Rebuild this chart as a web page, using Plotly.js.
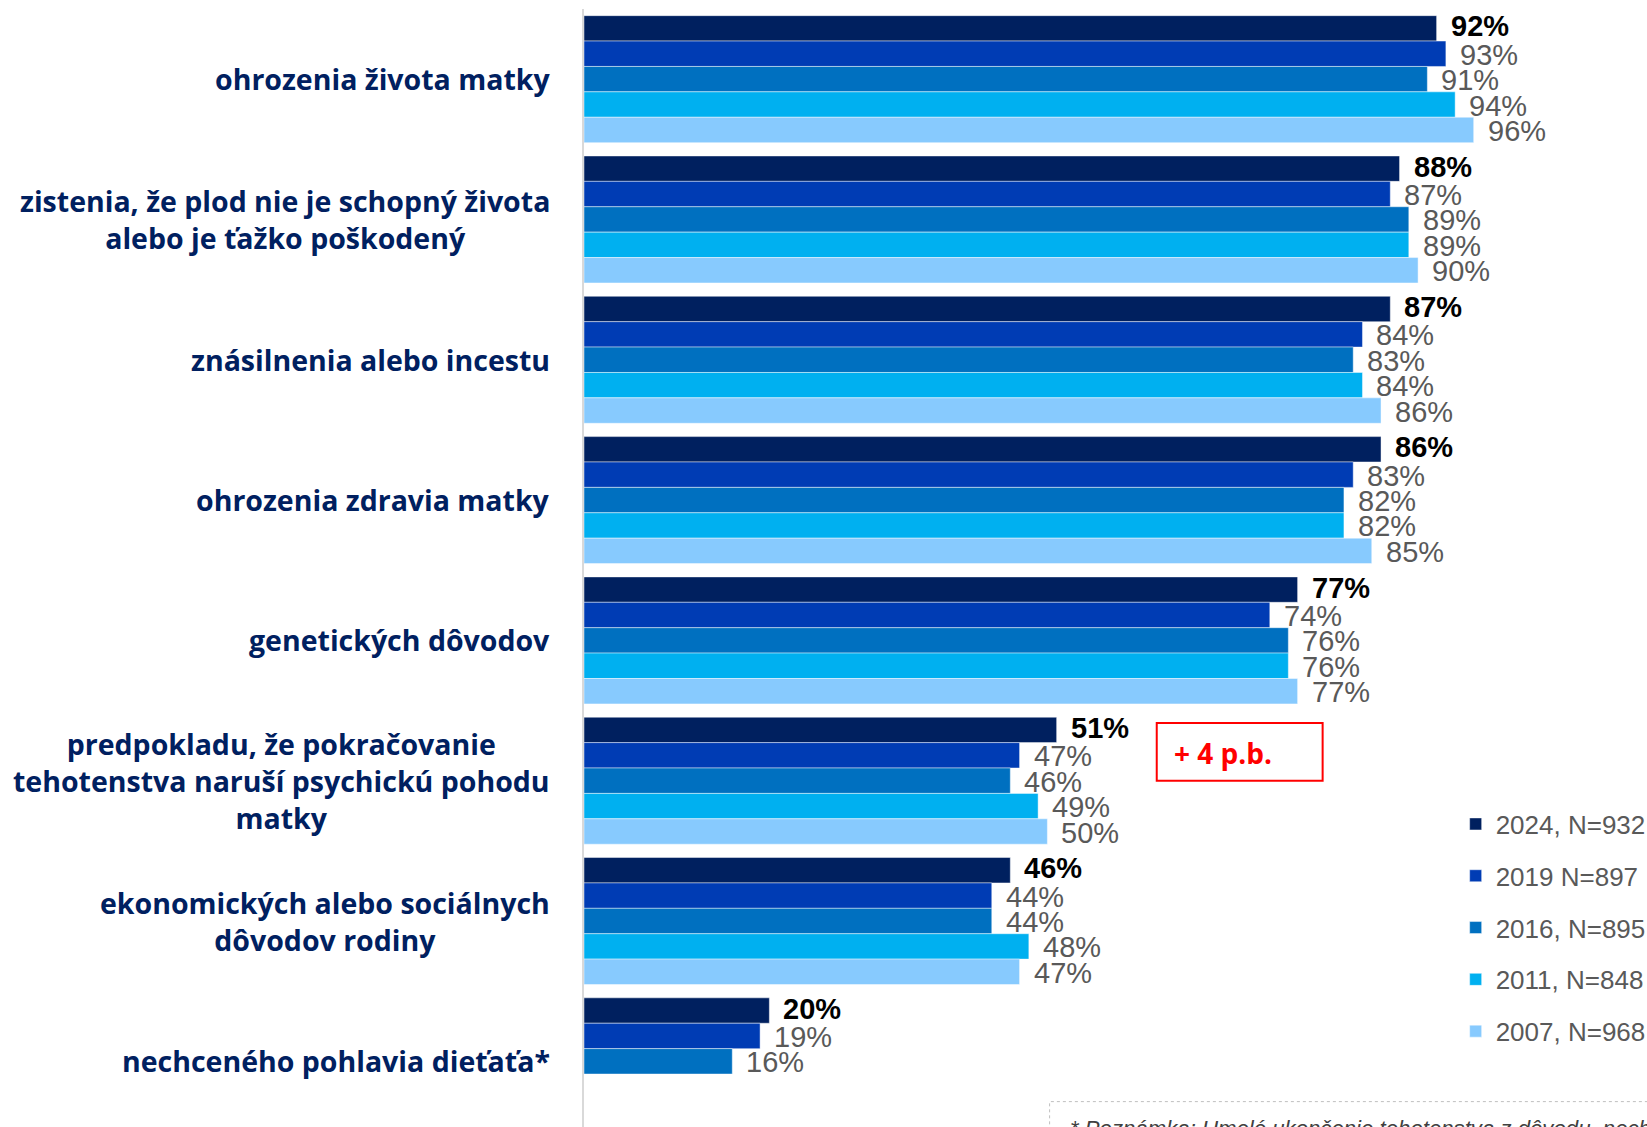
<!DOCTYPE html>
<html>
<head>
<meta charset="utf-8">
<script src="https://cdn.plot.ly/plotly-3.0.1.min.js"></script>
<style>
  html, body { margin: 0; padding: 0; background: #ffffff; }
  #chart { width: 1647px; height: 1127px; }
</style>
</head>
<body>
<div id="chart"></div>
<script>
const categories = [
  "ohrozenia života matky",
  "zistenia, že plod nie je schopný života<br>alebo je ťažko poškodený",
  "znásilnenia alebo incestu",
  "ohrozenia zdravia matky",
  "genetických dôvodov",
  "predpokladu, že pokračovanie<br>tehotenstva naruší psychickú pohodu<br>matky",
  "ekonomických alebo sociálnych<br>dôvodov rodiny",
  "nechceného pohlavia dieťaťa*"
];
const seriesNames = ["2024, N=932", "2019 N=897", "2016, N=895", "2011, N=848", "2007, N=968"];
const v2024 = [92, 88, 87, 86, 77, 51, 46, 20];
const v2019 = [93, 87, 84, 83, 74, 47, 44, 19];
const v2016 = [91, 89, 83, 82, 76, 46, 44, 16];
const v2011 = [94, 89, 84, 82, 76, 49, 48, null];
const v2007 = [96, 90, 86, 85, 77, 50, 47, null];
const seriesValues = [v2024, v2019, v2016, v2011, v2007];
const seriesColors = ["#00205F", "#003CB4", "#0070C0", "#00B0F0", "#87CAFE"];
const noteText = "* Poznámka: Umelé ukončenie tehotenstva z dôvodu  nechceného pohlavia dieťaťa sa zisťovalo až od roku 2016.";
const boxText = "+ 4 p.b.";

const narrow = "Liberation Sans Narrow, Arial Narrow, Liberation Sans, Arial, sans-serif";
const labelFont = "Open Sans, Noto Sans, sans-serif";
const bargap = 0.095;
const nS = seriesNames.length;
const slot = (1 - bargap) / nS;

const traces = seriesNames.map((name, s) => ({
  type: "bar",
  orientation: "h",
  name: name,
  legendgroup: "g" + s,
  x: seriesValues[s],
  y: categories,
  marker: { color: seriesColors[s], line: { color: "rgba(255,255,255,0.45)", width: 1 } },
  hoverinfo: "skip"
}));

const annotations = [];
categories.forEach((c, i) => {
  annotations.push({
    xref: "paper", yref: "y", x: -0.030, y: i,
    xanchor: "right", yanchor: "middle", align: "center",
    text: c, showarrow: false,
    font: { family: labelFont, size: 28.5, color: "#002060", weight: "bold" }
  });
});
seriesValues.forEach((vals, s) => {
  vals.forEach((v, i) => {
    if (v === null) return;
    annotations.push({
      xref: "x", yref: "y", x: v, y: i + (s - (nS - 1) / 2) * slot,
      xanchor: "left", yanchor: "middle", xshift: 12, yshift: s === 0 ? 2 : -1,
      text: v + "%", showarrow: false,
      font: { family: narrow, size: 29, color: s === 0 ? "#000000" : "#595959", weight: s === 0 ? "bold" : "normal" }
    });
  });
});
annotations.push({
  xref: "x", yref: "y", x: 63.4, y: 4.80,
  xanchor: "left", yanchor: "middle",
  text: boxText, showarrow: false,
  font: { family: labelFont, size: 28, color: "#FF0000", weight: "bold" }
});
annotations.push({
  xref: "paper", yref: "paper", x: 0.455, y: 0,
  xanchor: "left", yanchor: "top", yshift: 13,
  text: "<i>" + noteText + "</i>", showarrow: false,
  font: { family: "Liberation Sans, Arial, sans-serif", size: 22.2, color: "#404040" }
});

const layout = {
  width: 1647, height: 1127,
  margin: { l: 584, r: 0, t: 9, b: 0, pad: 0, autoexpand: false },
  paper_bgcolor: "#ffffff", plot_bgcolor: "#ffffff",
  barmode: "group", bargap: bargap, bargroupgap: 0,
  showlegend: true,
  legend: {
    x: 0.820, xanchor: "left", y: 0.292, yanchor: "top",
    traceorder: "grouped", tracegroupgap: 15,
    font: { family: narrow, size: 26, color: "#595959" },
    bgcolor: "rgba(0,0,0,0)", borderwidth: 0
  },
  xaxis: { range: [0, 114.7], visible: false, fixedrange: true },
  yaxis: {
    type: "category", range: [7.468, -0.5],
    showticklabels: false, ticks: "", showgrid: false, zeroline: false,
    showline: true, linecolor: "#D9D9D9", linewidth: 2, fixedrange: true
  },
  shapes: [
    { type: "rect", xref: "x", yref: "y", x0: 61.8, x1: 79.7, y0: 4.589, y1: 5.0,
      line: { color: "#FF0000", width: 2 }, fillcolor: "rgba(0,0,0,0)" },
    { type: "rect", xref: "paper", yref: "paper", x0: 0.438, x1: 1.05, y0: -0.1, y1: 0.0227,
      line: { color: "#BFBFBF", width: 1, dash: "dot" }, fillcolor: "rgba(0,0,0,0)" }
  ],
  annotations: annotations
};

Plotly.newPlot("chart", traces, layout, { displayModeBar: false, staticPlot: true });
</script>
</body>
</html>
